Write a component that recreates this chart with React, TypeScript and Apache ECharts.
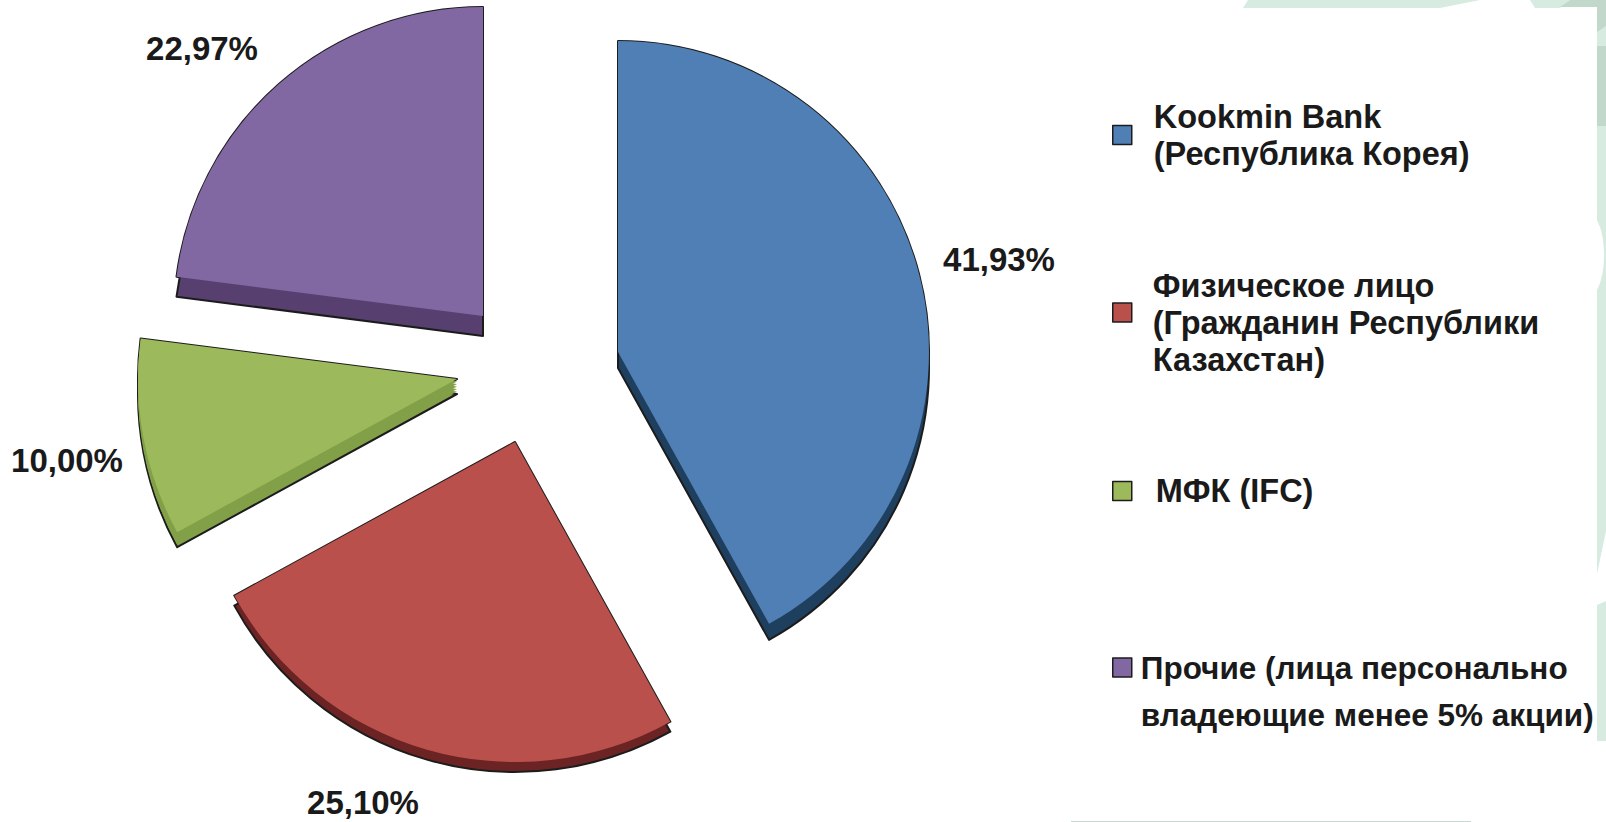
import React, { useEffect, useRef } from "react";
import * as echarts from "echarts";

const categories = [
  "Kookmin Bank\n(Республика Корея)",
  "Физическое лицо\n(Гражданин Республики\nКазахстан)",
  "МФК (IFC)",
  "Прочие (лица персонально\nвладеющие менее 5% акции)",
];
const shares = [41.93, 25.1, 10.0, 22.97];
const faceColors = ["#4f7fb5", "#b9504c", "#9cba5b", "#8268a3"];
const sideColors = ["#1f3f5f", "#6b2423", "#82a048", "#57406f"];
const centers = [[618, 352], [515, 442], [457, 379], [483, 316]];
const radii = [311, 320, 319, 309];
const depths = [16, 10, 15, 20];
const sweepCopies = [0, 0, 5, 0];
const labelSpots = [[999, 259], [363, 802], [67, 460], [202, 48]];

const legendSpec = [
  { left: 1112, top: 98, size: 32.5, lh: 37, gap: 17, lead: 0 },
  { left: 1112, top: 247, size: 32.5, lh: 37, gap: 16, lead: 20 },
  { left: 1112, top: 474, size: 32.5, lh: 34, gap: 19, lead: 0 },
  { left: 1112, top: 597, size: 31.5, lh: 47, gap: 4, lead: 47 },
];

const LIGHT = "#d8ebe0";
const DARK = "#c2d8ca";

function background() {
  const poly = (points: number[][], fill: string) => ({ type: "polygon", silent: true, shape: { points }, style: { fill } });
  return [
    poly([[1248, 0], [1480, 0], [1440, 8], [1243, 8]], LIGHT),
    poly([[1530, 0], [1570, 0], [1560, 8], [1535, 8]], LIGHT),
    poly([[1570, 0], [1606, 0], [1606, 126], [1597, 126], [1597, 7], [1560, 7]], DARK),
    poly([[1597, 32], [1606, 26], [1606, 46], [1597, 46]], LIGHT),
    poly([[1597, 126], [1606, 126], [1606, 531], [1597, 574]], LIGHT),
    poly([[1597, 605], [1606, 601], [1606, 741], [1597, 741]], LIGHT),
    { type: "ellipse", silent: true, shape: { cx: 1590, cy: 255, rx: 14, ry: 40 }, style: { fill: "#ffffff" } },
    { type: "rect", silent: true, shape: { x: 1071, y: 821, width: 400, height: 1 }, style: { fill: "#c5dcd0" } },
  ];
}

type Layer = "outline" | "side" | "sweep" | "face";

function sliceSeries(i: number, layer: Layer, drop = 0, z = 2) {
  const before = shares.slice(0, i).reduce((a, b) => a + b, 0);
  const total = shares.reduce((a, b) => a + b, 0);
  const [cx, cy] = centers[i];
  const border = "#1c1c1c";
  const isFace = layer === "face";
  return {
    type: "pie",
    silent: true,
    z,
    center: [cx, cy + drop],
    radius: radii[i],
    startAngle: (((90 - (before / total) * 360) % 360) + 360) % 360,
    clockwise: true,
    avoidLabelOverlap: false,
    emphasis: { disabled: true },
    labelLine: { show: false },
    label: isFace
      ? {
          show: true,
          position: "outside",
          fontFamily: "Liberation Sans",
          fontWeight: "bold",
          fontSize: 33,
          color: "#1a1a1a",
          formatter: (p: any) => p.value.toFixed(2).replace(".", ",") + "%",
        }
      : { show: false },
    labelLayout: isFace
      ? { x: labelSpots[i][0], y: labelSpots[i][1], align: "center", verticalAlign: "middle" }
      : undefined,
    data: [
      {
        value: shares[i],
        name: isFace ? categories[i] : "",
        itemStyle: isFace
          ? { color: faceColors[i], borderWidth: 0 }
          : layer === "sweep"
          ? { color: sideColors[i], borderWidth: 0 }
          : { color: sideColors[i], borderColor: border, borderWidth: 2 },
      },
      {
        value: total - shares[i],
        name: " ",
        itemStyle: { color: "rgba(0,0,0,0)", borderWidth: 0 },
        label: { show: false },
        labelLine: { show: false },
      },
    ],
  };
}

function sliceLayers(i: number) {
  const sweep = [];
  const n = sweepCopies[i];
  for (let k = n; k >= 1; k--) {
    sweep.push(sliceSeries(i, "sweep", (depths[i] * k) / (n + 1), 3));
  }
  return [
    sliceSeries(i, "outline", 0, 2),
    sliceSeries(i, "side", depths[i], 3),
    ...sweep,
    sliceSeries(i, "face", 0, 4),
  ];
}

export default function App() {
  const ref = useRef<HTMLDivElement>(null);
  useEffect(() => {
    const chart = echarts.init(ref.current!, undefined, { renderer: "svg" });
    chart.setOption({
      animation: false,
      backgroundColor: "#ffffff",
      graphic: { elements: background() },
      legend: categories.map((name, i) => {
        const s = legendSpec[i];
        const base = { fontFamily: "Liberation Sans", fontWeight: "bold", fontSize: s.size, lineHeight: s.lh, color: "#1a1a1a" };
        return {
          show: true,
          data: [name],
          left: s.left,
          top: s.top,
          padding: 0,
          icon: "rect",
          itemWidth: 19,
          itemHeight: 19,
          selectedMode: false,
          itemStyle: { borderColor: "#1c1c1c", borderWidth: 1.5 },
          formatter: (n: string) => {
            const lines = n.split("\n").map((l) => `{t|${l}}`);
            return (s.lead ? ["{s| }"] : []).concat(lines).join("\n");
          },
          textStyle: {
            ...base,
            padding: [0, 0, 0, s.gap],
            rich: {
              t: base,
              s: { fontSize: 4, lineHeight: s.lead || 1 },
            },
          },
        };
      }),
      series: shares.flatMap((_, i) => sliceLayers(i)),
    });
    return () => chart.dispose();
  }, []);
  return <div ref={ref} style={{ position: "fixed", left: 0, top: 0, width: 1606, height: 822 }} />;
}
